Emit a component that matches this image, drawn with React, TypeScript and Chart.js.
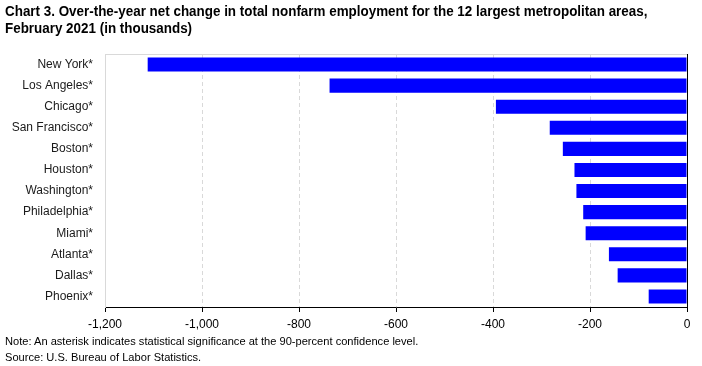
import React, { useEffect, useRef } from "react";
import { Chart, registerables } from "chart.js";

Chart.register(...registerables);

const categories = [
  "New York*",
  "Los Angeles*",
  "Chicago*",
  "San Francisco*",
  "Boston*",
  "Houston*",
  "Washington*",
  "Philadelphia*",
  "Miami*",
  "Atlanta*",
  "Dallas*",
  "Phoenix*",
];
const netChange = [-1112, -737, -394, -283, -256, -232, -228, -214, -209, -161, -143, -79];
const axisMin = -1200;
const axisMax = 0;
const axisStep = 200;

const titleLine1 =
  "Chart 3. Over-the-year net change in total nonfarm employment for the 12 largest metropolitan areas,";
const titleLine2 = "February 2021 (in thousands)";
const noteText =
  "Note: An asterisk indicates statistical significance at the 90-percent confidence level.";
const sourceText = "Source: U.S. Bureau of Labor Statistics.";

const frame = {
  id: "frame",
  afterDatasetsDraw(chart: any) {
    const { ctx, chartArea, scales } = chart;
    ctx.save();
    ctx.lineWidth = 1;
    ctx.strokeStyle = "#d9d9d9";
    ctx.beginPath();
    ctx.moveTo(chartArea.left, Math.round(chartArea.top) + 0.5);
    ctx.lineTo(chartArea.right, Math.round(chartArea.top) + 0.5);
    ctx.stroke();
    const x0 = Math.round(scales.x.getPixelForValue(0)) + 0.5;
    ctx.strokeStyle = "#000";
    ctx.beginPath();
    ctx.moveTo(x0, chartArea.top);
    ctx.lineTo(x0, chartArea.bottom);
    ctx.stroke();
    ctx.restore();
  },
};

export default function App() {
  const ref = useRef<HTMLCanvasElement | null>(null);
  useEffect(() => {
    if (!ref.current) return;
    const chart = new Chart(ref.current, {
      type: "bar",
      data: {
        labels: categories,
        datasets: [
          {
            data: netChange,
            backgroundColor: "#0000FF",
            borderWidth: 0,
            barPercentage: 0.667,
            categoryPercentage: 1,
          },
        ],
      },
      options: {
        indexAxis: "y",
        responsive: false,
        animation: false,
        devicePixelRatio: 1,
        layout: { padding: { top: 54, right: 15, left: 0, bottom: 0 } },
        plugins: {
          legend: { display: false },
          tooltip: { enabled: false },
          title: { display: false },
        },
        scales: {
          x: {
            type: "linear",
            min: axisMin,
            max: axisMax,
            afterFit: (s: any) => {
              s.height = 59;
            },
            ticks: {
              stepSize: axisStep,
              color: "#000",
              padding: 5,
              font: { family: "'Liberation Sans', Arial, sans-serif", size: 12 },
              callback: (v: any) => Number(v).toLocaleString("en-US"),
            },
            grid: {
              color: (c: any) =>
                c.tick && (c.tick.value === axisMin || c.tick.value === axisMax)
                  ? "rgba(0,0,0,0)"
                  : "#d9d9d9",
              drawTicks: true,
              tickLength: 5,
              tickColor: "#000",
              tickBorderDash: [],
            },
            border: { display: true, color: "#000", width: 1, dash: [4, 3] },
          },
          y: {
            afterFit: (s: any) => {
              s.width = 105;
            },
            ticks: {
              color: "#1a1a1a",
              padding: 12,
              font: { family: "'Liberation Sans', Arial, sans-serif", size: 12 },
            },
            grid: { display: false, drawTicks: false },
            border: { display: true, color: "#d9d9d9", width: 1 },
          },
        },
      },
      plugins: [frame],
    });
    return () => chart.destroy();
  }, []);

  const small: React.CSSProperties = {
    position: "absolute",
    left: 5,
    fontFamily: "'Liberation Sans', Arial, sans-serif",
    fontSize: 11.5,
    color: "#000",
    whiteSpace: "nowrap",
    lineHeight: "14px",
    transform: "scaleX(0.965)",
    transformOrigin: "left top",
  };

  return (
    <div style={{ position: "absolute", left: 0, top: 0, width: 702, height: 366, background: "#fff" }}>
      <canvas ref={ref} width={702} height={366} style={{ position: "absolute", left: 0, top: 0, width: 702, height: 366 }} />
      <div
        style={{
          position: "absolute",
          left: 5,
          top: 3,
          fontFamily: "'Liberation Sans', Arial, sans-serif",
          fontWeight: "bold",
          fontSize: 14,
          lineHeight: "17px",
          color: "#000",
          whiteSpace: "nowrap",
          transform: "scaleX(0.958)",
          transformOrigin: "left top",
        }}
      >
        <div>{titleLine1}</div>
        <div>{titleLine2}</div>
      </div>
      <div style={{ ...small, top: 334 }}>{noteText}</div>
      <div style={{ ...small, top: 350 }}>{sourceText}</div>
    </div>
  );
}
